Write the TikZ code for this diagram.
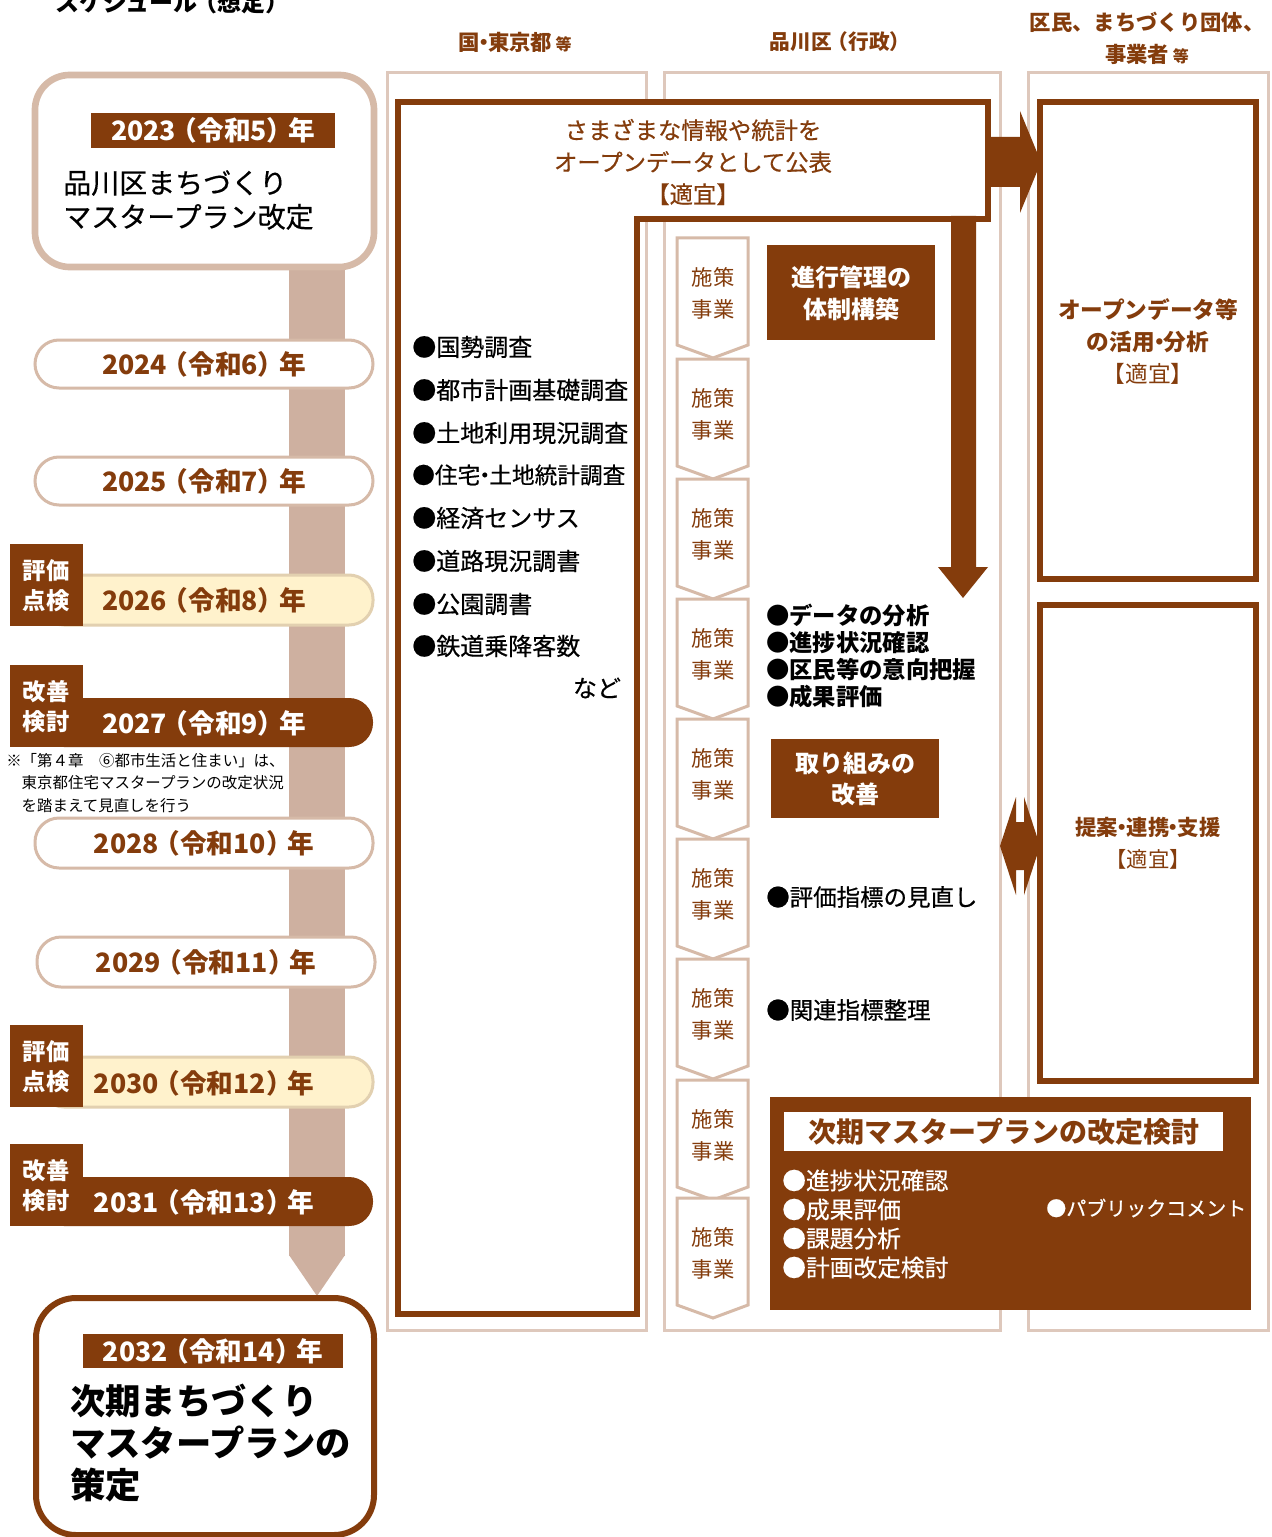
\documentclass[tikz,border=0pt]{standalone}
\usepackage{fontspec}
\setmainfont{Noto Sans CJK JP}
\newfontfamily\jpmed[FakeBold=0.5]{Noto Sans CJK JP}
\newcommand{\myfs}[2]{\fontsize{#1pt}{#2pt}\selectfont}
\newcommand{\nd}{\kern-0.3em・\kern-0.3em}
\newcommand{\lp}{\kern-0.2em（}
\newcommand{\rp}{）\kern-0.2em}
\definecolor{dbrown}{RGB}{132,60,12}
\definecolor{tbar}{RGB}{206,176,160}
\definecolor{pillb}{RGB}{214,186,168}
\definecolor{framec}{RGB}{222,200,188}
\definecolor{yfill}{RGB}{255,242,204}
\definecolor{yborder}{RGB}{226,208,176}
\begin{document}
\begin{tikzpicture}[x=0.75pt,y=-0.75pt,
  lframe/.style={draw=framec,line width=2.25pt},
  wpill/.style={draw=pillb,line width=2.25pt,fill=white,rounded corners=18pt},
  ypill/.style={draw=yborder,line width=2.25pt,fill=yfill,rounded corners=18pt},
  dpill/.style={fill=dbrown,rounded corners=18pt},
  tagbox/.style={fill=dbrown},
  tagtext/.style={text=white,font=\myfs{17.5}{22.5}\bfseries,align=center,inner sep=0pt},
  yeartext/.style={text=dbrown,font=\myfs{20}{24}\bfseries,inner sep=0pt},
  dline/.style={draw=dbrown,line width=4.5pt},
  pent/.style={draw=pillb,line width=2.25pt,fill=white,line join=miter},
  penttext/.style={text=dbrown,font=\myfs{16}{24},align=center,inner sep=0pt},
  listtext/.style={text=black,font=\jpmed\myfs{18}{24},inner sep=0pt,anchor=west},
  headtext/.style={text=dbrown,font=\myfs{16}{24}\bfseries,align=center,inner sep=0pt},
  wboxtext/.style={text=white,font=\myfs{18}{24}\bfseries,align=center,inner sep=0pt},
  arrowfill/.style={fill=dbrown}
]
\useasboundingbox (0,0) rectangle (1271,1537);
\fill[white] (0,0) rectangle (1271,1537);

% title (cut at top, as in the reference)
\node[text=black,font=\myfs{18}{24}\bfseries,inner sep=0pt] (title) at (170,2) {スケジュール\lp 想定\rp};

% column headers
\node[headtext] (h1) at (515,42) {国\nd 東京都\,{\myfs{12}{16}等}};
\node[headtext,font=\myfs{15.5}{24}\bfseries] (h2) at (838,42) {品川区\lp 行政\rp};
\node[headtext] (h3) at (1147,38) {区民、まちづくり団体、\\事業者\,{\myfs{12}{16}等}};

% column frames
\draw[lframe] (387,73) rectangle (646,1330);
\draw[lframe] (664,73) rectangle (1000,1330);
\draw[lframe] (1028,73) rectangle (1268,1330);

% timeline bar
\fill[tbar] (289,262) rectangle (345,1256);
\fill[tbar] (289,1255) -- (345,1255) -- (317,1296) -- cycle;

% top-left box
\draw[draw=pillb,line width=5pt,fill=white,rounded corners=26pt] (35,75) rectangle (374,267);
\fill[dbrown] (91,113) rectangle (335,148);
\node[yeartext,text=white] (y2023) at (213,130) {2023\lp 令和5\rp 年};
\node[text=black,font=\jpmed\myfs{21}{25.5},align=left,anchor=west,inner sep=0pt] (mp1) at (63,200) {品川区まちづくり\\マスタープラン改定};

% year pills
\draw[wpill] (35,340) rectangle (373,388);
\node[yeartext] (y2024) at (204,364) {2024\lp 令和6\rp 年};
\draw[wpill] (35,457) rectangle (373,505);
\node[yeartext] (y2025) at (204,481) {2025\lp 令和7\rp 年};

\draw[ypill] (40,575) rectangle (373,625);
\fill[tagbox] (10,544) rectangle (83,626);
\node[tagtext] (t2026) at (46,586) {評価\\点検};
\node[yeartext] (y2026) at (204,600) {2026\lp 令和8\rp 年};

\fill[dpill] (40,698) rectangle (373,747);
\fill[tagbox] (10,665) rectangle (83,747);
\node[tagtext] (t2027) at (46,707) {改善\\検討};
\node[yeartext,text=white] (y2027) at (204,723) {2027\lp 令和9\rp 年};

\node[text=black,font=\myfs{11.6}{16.9},align=left,anchor=west,inner sep=0pt] (note) at (6,783) {※「第４章　⑥都市生活と住まい」は、\\　東京都住宅マスタープランの改定状況\\　を踏まえて見直しを行う};

\draw[wpill] (35,818) rectangle (373,868);
\node[yeartext] (y2028) at (204,843) {2028\lp 令和10\rp 年};
\draw[wpill] (37,937) rectangle (375,987);
\node[yeartext] (y2029) at (206,962) {2029\lp 令和11\rp 年};

\draw[ypill] (40,1057) rectangle (373,1107);
\fill[tagbox] (10,1025) rectangle (83,1107);
\node[tagtext] (t2030) at (46,1067) {評価\\点検};
\node[yeartext] (y2030) at (204,1083) {2030\lp 令和12\rp 年};

\fill[dpill] (40,1177) rectangle (373,1226);
\fill[tagbox] (10,1144) rectangle (83,1226);
\node[tagtext] (t2031) at (46,1186) {改善\\検討};
\node[yeartext,text=white] (y2031) at (204,1202) {2031\lp 令和13\rp 年};

% bottom-left box
\draw[draw=dbrown,line width=4.5pt,fill=white,rounded corners=30pt] (36,1298) rectangle (374,1535);
\fill[dbrown] (83,1334) rectangle (343,1368);
\node[yeartext,text=white] (y2032) at (213,1351) {2032\lp 令和14\rp 年};
\node[text=black,font=\myfs{26.5}{31.5}\bfseries,align=left,anchor=west,inner sep=0pt] (next) at (70,1443) {次期まちづくり\\マスタープランの\\策定};

% L-shaped dark outline
\draw[dline,fill=white,line join=miter] (398,102) -- (988,102) -- (988,219) -- (637,219) -- (637,1314) -- (398,1314) -- cycle;
\node[text=dbrown,font=\jpmed\myfs{17.5}{24},align=center,inner sep=0pt] (open) at (693,162) {さまざまな情報や統計を\\オープンデータとして公表\\【適宜】};

% column 1 list
\foreach \s/\y [count=\i] in {国勢調査/347,都市計画基礎調査/390,土地利用現況調査/433} {
  \node[listtext] (c\i) at (412,\y) {●\s};
}
\node[listtext,font=\jpmed\myfs{17}{24}] (c4) at (412,475) {●住宅\nd 土地統計調査};
\foreach \s/\y [count=\i from 5] in {経済センサス/518,道路現況調書/561,公園調書/604,鉄道乗降客数/646} {
  \node[listtext] (c\i) at (412,\y) {●\s};
}
\node[text=black,font=\jpmed\myfs{18}{24},inner sep=0pt] (nado) at (597,688) {など};

% pentagons
\foreach \t [count=\i] in {238,359,479,599,719,839,959,1080,1198} {
  \draw[pent] (677,\t) -- (748,\t) -- (748,\t+107) -- (713,\t+120) -- (677,\t+107) -- cycle;
  \node[penttext] (p\i) at (713,\t+55) {施策\\事業};
}

% dark boxes in column 2
\fill[dbrown] (767,245) rectangle (935,340);
\node[wboxtext] (kanri) at (851,293) {進行管理の\\体制構築};
\fill[dbrown] (771,739) rectangle (939,818);
\node[wboxtext,font=\myfs{18}{23.5}\bfseries] (kaizen) at (855,779) {取り組みの\\改善};

\node[text=black,font=\myfs{17.5}{20.25}\bfseries,align=left,anchor=west,inner sep=0pt] (check) at (766,656) {●データの分析\\●進捗状況確認\\●区民等の意向把握\\●成果評価};
\node[listtext,font=\jpmed\myfs{17.6}{24}] (shihyo) at (766,897) {●評価指標の見直し};
\node[listtext,font=\jpmed\myfs{17.6}{24}] (kanren) at (766,1010) {●関連指標整理};

% arrows
\fill[arrowfill] (951,216) -- (976,216) -- (976,567) -- (988,567) -- (963,598) -- (938,567) -- (951,567) -- cycle;
\fill[arrowfill] (986,137) -- (1020,137) -- (1020,111) -- (1041,162) -- (1020,213) -- (1020,187) -- (986,187) -- cycle;
\fill[arrowfill] (1000,846) -- (1016,797) -- (1016,822) -- (1024,822) -- (1024,797) -- (1040,846) -- (1024,895) -- (1024,870) -- (1016,870) -- (1016,895) -- cycle;

% column 3 boxes
\draw[dline,fill=white] (1040,102) rectangle (1256,579);
\node[text=dbrown,font=\myfs{17}{24},align=center,inner sep=0pt] (katsuyo) at (1148,342) {\textbf{オープンデータ等}\\\textbf{の活用\nd 分析}\\【適宜】};
\draw[dline,fill=white] (1040,605) rectangle (1256,1081);
\node[text=dbrown,font=\myfs{16}{24},align=center,inner sep=0pt] (teian) at (1148,843) {\textbf{提案\nd 連携\nd 支援}\\【適宜】};

% bottom dark box
\fill[dbrown] (770,1097) rectangle (1251,1310);
\fill[white] (784,1112) rectangle (1223,1151);
\node[text=dbrown,font=\myfs{21}{24}\bfseries,inner sep=0pt] (jiki) at (1004,1132) {次期マスタープランの改定検討};
\node[text=white,font=\jpmed\myfs{17.8}{21.75},align=left,anchor=west,inner sep=0pt] (jlist) at (782,1224) {●進捗状況確認\\●成果評価\\●課題分析\\●計画改定検討};
\node[text=white,font=\jpmed\myfs{15}{20},anchor=west,inner sep=0pt] (pub) at (1046,1208) {●パブリックコメント};
\end{tikzpicture}
\end{document}
